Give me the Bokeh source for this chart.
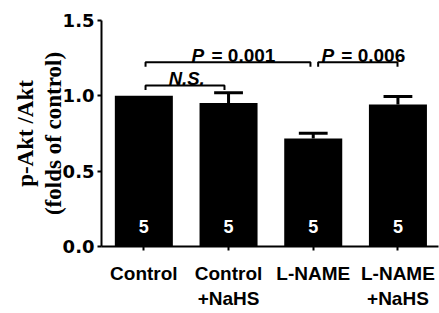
from bokeh.plotting import figure
from bokeh.models import FixedTicker, Label, ColumnDataSource
from bokeh.core.properties import value
from bokeh.embed import file_html
from bokeh.resources import INLINE

# ---- data ----
categories = ["Control", "Control\n+NaHS", "L-NAME", "L-NAME\n+NaHS"]
means = [1.0, 0.952, 0.717, 0.942]
sems = [0.0, 0.069, 0.034, 0.053]
n_values = ["5", "5", "5", "5"]
y_ticks = [0.0, 0.5, 1.0, 1.5]
y_tick_labels = ["0.0", "0.5", "1.0", "1.5"]
comparisons = [(0, 1, "N.S."), (0, 2, "0.001"), (2, 3, "0.006")]
y_title = "p-Akt /Akt\n(folds of control)"

xs = list(range(len(categories)))

p = figure(width=439, height=312, output_backend="svg", toolbar_location=None,
           x_range=(-0.5, 3.479), y_range=(0, 1.5),
           min_border_left=101, min_border_right=1, min_border_top=20, min_border_bottom=66)
p.outline_line_color = None
p.xgrid.visible = False
p.ygrid.visible = False
p.background_fill_color = "white"

BLACK = "black"
SANS = "Liberation Sans"

# bars
src = ColumnDataSource(dict(x=xs, top=means))
p.vbar(x="x", top="top", width=0.685, source=src, fill_color=BLACK, line_color=None)

# error bars (upward only)
ex = [x for x, s in zip(xs, sems) if s > 0]
ey0 = [m for m, s in zip(means, sems) if s > 0]
ey1 = [m + s for m, s in zip(means, sems) if s > 0]
p.segment(x0=ex, y0=ey0, x1=ex, y1=ey1, line_color=BLACK, line_width=3)
p.segment(x0=[x - 0.17 for x in ex], y0=ey1, x1=[x + 0.17 for x in ex], y1=ey1,
          line_color=BLACK, line_width=3)

# n labels inside bars
p.text(x=xs, y=[0.133] * len(xs), text=n_values, text_color="white",
       text_font=value(SANS), text_font_style="bold", text_font_size="18px",
       text_align="center", text_baseline="middle")

# brackets
bracket_style = {
    "N.S.": dict(y=1.069, leg=0.03, dx0=0.02, dx1=-0.048),
    "0.001": dict(y=1.223, leg=0.03, dx0=0.02, dx1=-0.033),
    "0.006": dict(y=1.223, leg=0.03, dx0=0.058, dx1=-0.005),
}
for a, b, lab in comparisons:
    st = bracket_style[lab]
    xa = xs[a] + st["dx0"]
    xb = xs[b] + st["dx1"]
    yy = st["y"]
    p.line(x=[xa, xa, xb, xb], y=[yy - st["leg"], yy, yy, yy - st["leg"]],
           line_color=BLACK, line_width=2)
    if lab == "N.S.":
        p.add_layout(Label(x=(xa + xb) / 2 + 0.02, y=yy + 0.045, text="N.S.",
                           text_font=SANS, text_font_style="bold italic",
                           text_font_size="18.5px", text_align="center",
                           text_baseline="alphabetic", text_color=BLACK))
    else:
        mid = (xa + xb) / 2
        p.add_layout(Label(x=mid + 0.56, y=1.268, text="= " + lab,
                           text_font=SANS, text_font_style="bold",
                           text_font_size="19px", text_align="right",
                           text_baseline="alphabetic", text_color=BLACK))
        p.add_layout(Label(x=mid - 0.43, y=1.268, text="P",
                           text_font=SANS, text_font_style="bold italic",
                           text_font_size="19px", text_align="left",
                           text_baseline="alphabetic", text_color=BLACK))

# axes
for ax in (p.xaxis[0], p.yaxis[0]):
    ax.axis_line_width = 2
    ax.axis_line_color = BLACK
    ax.major_tick_line_width = 2
    ax.major_tick_line_color = BLACK
    ax.major_tick_out = 4
    ax.major_tick_in = 0
    ax.minor_tick_line_color = None
    ax.major_label_text_color = BLACK
    ax.major_label_text_font_style = "bold"

p.yaxis.ticker = FixedTicker(ticks=y_ticks)
p.yaxis.major_label_overrides = {t: l for t, l in zip(y_ticks, y_tick_labels)}
p.yaxis.major_label_text_font = "DejaVu Sans"
p.yaxis.major_label_text_font_size = "18px"
p.yaxis.major_label_standoff = 3
p.yaxis.axis_label = y_title
p.yaxis.axis_label_text_font = "Liberation Serif"
p.yaxis.axis_label_text_font_style = "bold"
p.yaxis.axis_label_text_font_size = "23px"
p.yaxis.axis_label_text_color = BLACK
p.yaxis.axis_label_standoff = -6
p.yaxis.axis_label_text_line_height = 1.1

p.xaxis.ticker = FixedTicker(ticks=xs)
p.xaxis.major_label_overrides = {x: c for x, c in zip(xs, categories)}
p.xaxis.major_label_text_font = SANS
p.xaxis.major_label_text_font_size = "19px"
p.xaxis.major_label_text_line_height = 1.2
p.xaxis.major_label_standoff = 12
p.xaxis.major_label_orientation = "horizontal"

open("out.html", "w").write(file_html(p, INLINE))
